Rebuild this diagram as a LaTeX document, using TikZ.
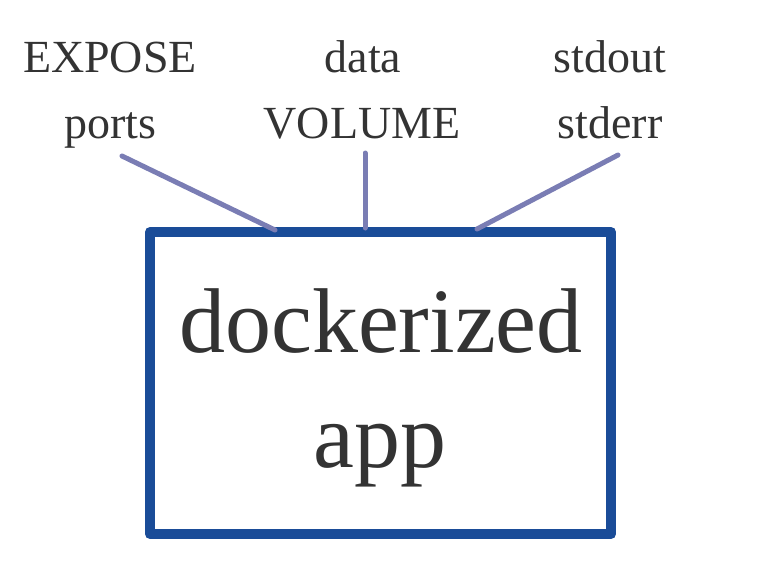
\documentclass[tikz,border=0pt]{standalone}
\usepackage{fontspec}
\setmainfont{Liberation Serif}
\definecolor{boxblue}{HTML}{1A4C98}
\definecolor{linkc}{HTML}{7A7DB4}
\definecolor{txt}{HTML}{333333}
\tikzset{
  lbl/.style={anchor=base, inner sep=0pt, text=txt, font=\fontsize{46}{50}\selectfont},
  big/.style={anchor=base, inner sep=0pt, text=txt, font=\fontsize{92}{100}\selectfont},
  appbox/.style={draw=boxblue, line width=10pt, line join=round},
  link/.style={draw=linkc, line width=5pt, line cap=round}
}
\begin{document}
\begin{tikzpicture}[x=1pt,y=-1pt]
\useasboundingbox (0,0) rectangle (776,560);
\draw[appbox] (150,232) rectangle (611,534);
\node[lbl] (expose) at (110,72) {EXPOSE};
\node[lbl] (ports) at (110,138) {ports};
\node[lbl] (data) at (363,72) {data};
\node[lbl] (volume) at (362,138) {VOLUME};
\node[lbl] (stdout) at (610,72) {stdout};
\node[lbl] (stderr) at (610,138) {stderr};
\node[big] (dock) at (381,352) {dockerized};
\node[big] (app) at (380,467) {app};
\coordinate (p1) at (122,156);
\coordinate (q1) at (275,230);
\coordinate (p2) at (365,153);
\coordinate (q2) at (365,228);
\coordinate (p3) at (618,155);
\coordinate (q3) at (477,229);
\draw[link] (p1) -- (q1);
\draw[link] (p2) -- (q2);
\draw[link] (p3) -- (q3);
\end{tikzpicture}
\end{document}
